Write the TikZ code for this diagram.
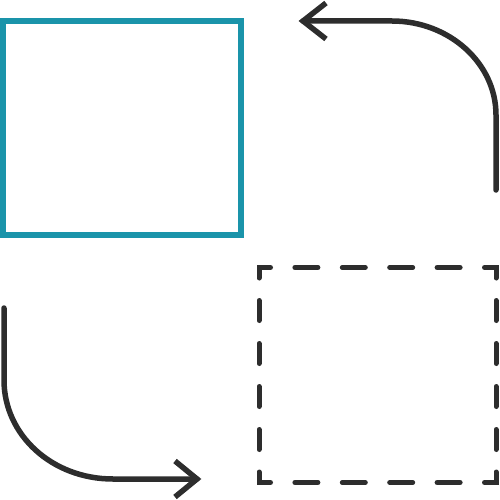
\documentclass[tikz,border=0pt]{standalone}
\begin{document}
\begin{tikzpicture}[x=1pt,y=-1pt]
\definecolor{teal1}{RGB}{26,148,170}
\definecolor{ink}{RGB}{45,45,45}
\tikzset{
  sq/.style={inner sep=0pt,outer sep=0pt,minimum width=238pt,minimum height=214pt},
  dsh/.style={ink,line width=5pt,line cap=round,line join=miter},
  arr/.style={ink,line width=5.5pt,line cap=round},
  chev/.style={ink,line width=5.5pt,line cap=butt,line join=miter}
}
\useasboundingbox (0,0) rectangle (500,500);
% teal square
\node[sq,draw=teal1,line width=6pt] (solid) at (122,128) {};
% dashed square
\node[sq,minimum width=237pt,minimum height=215pt] (dsq) at (377.5,375) {};
\draw[dsh] (259,278) -- (259,267.5) -- (270.5,267.5);
\draw[dsh] (484.5,267.5) -- (496,267.5) -- (496,278);
\draw[dsh] (259,472) -- (259,482.5) -- (270.5,482.5);
\draw[dsh] (484.5,482.5) -- (496,482.5) -- (496,472);
\foreach \k in {1,2,3,4}{
  \pgfmathsetmacro{\cx}{259+47.4*\k}
  \pgfmathsetmacro{\cy}{267.5+43*\k}
  \draw[dsh] (\cx-11.5,267.5) -- (\cx+11.5,267.5);
  \draw[dsh] (\cx-11.5,482.5) -- (\cx+11.5,482.5);
  \draw[dsh] (259,\cy-10) -- (259,\cy+10);
  \draw[dsh] (496,\cy-10) -- (496,\cy+10);
}
% top-right arrow
\coordinate (a1) at (496,190);
\coordinate (a2) at (496,115);
\coordinate (a3) at (392,21);
\coordinate (a4) at (303,21);
\draw[arr] (a1) -- (a2) .. controls (496,63) and (449,21) .. (a3) -- (a4);
\draw[chev] (326,3) -- (a4) -- (326,39);
% bottom-left arrow
\coordinate (b1) at (4,308);
\coordinate (b2) at (4,380);
\coordinate (b3) at (113,479);
\coordinate (b4) at (197,479);
\draw[arr] (b1) -- (b2) .. controls (4,435) and (52,479) .. (b3) -- (b4);
\draw[chev] (175,461) -- (b4) -- (175,497);
\end{tikzpicture}
\end{document}
